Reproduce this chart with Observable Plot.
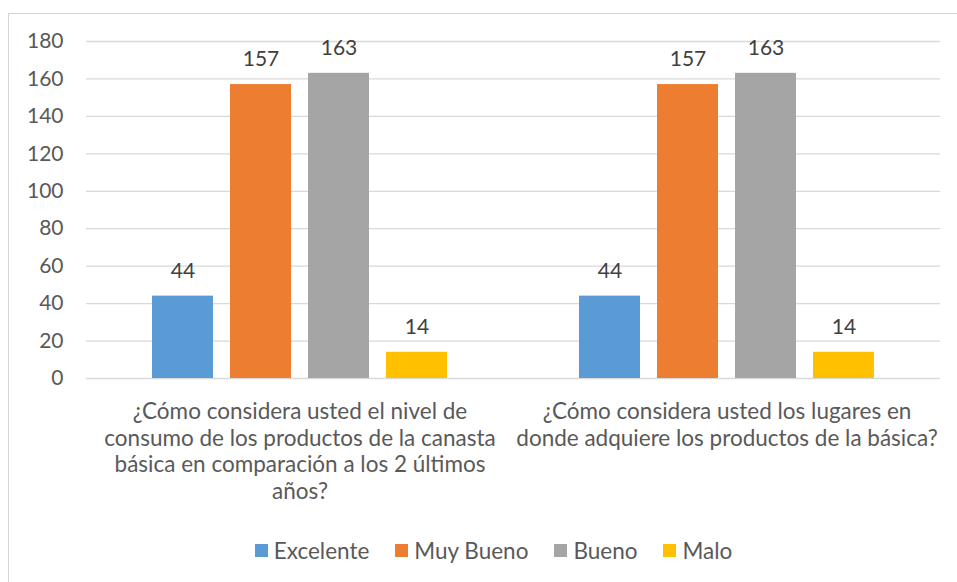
<!DOCTYPE html>
<html>
<head>
<meta charset="utf-8">
<script src="https://cdn.jsdelivr.net/npm/d3@7"></script>
<script src="https://cdn.jsdelivr.net/npm/@observablehq/plot@0.6"></script>
<style>
  html, body { margin: 0; padding: 0; background: #fff; }
  body { width: 957px; height: 582px; position: relative; overflow: hidden; font-family: Lato, "Open Sans", sans-serif; }
  #frame { position: absolute; left: 8px; top: 13px; width: 1000px; height: 600px; border: 1px solid #d4d4d4; box-sizing: border-box; }
  #chart { position: absolute; left: 0; top: 0; }
  #legend { position: absolute; left: 8px; width: 971px; top: 537px; display: flex; justify-content: center; align-items: center; font-size: 22.5px; color: #595959; }
  .item { display: flex; align-items: center; margin: 0 13px; }
  .sw { width: 13px; height: 13px; margin-right: 6px; }
</style>
</head>
<body>
<div id="frame"></div>
<div id="chart"></div>
<div id="legend"></div>
<script>
const questions = [
  "¿Cómo considera usted el nivel de\nconsumo de los productos de la canasta\nbásica en comparación a los 2 últimos\naños?",
  "¿Cómo considera usted los lugares en\ndonde adquiere los productos de la básica?"
];
const series = ["Excelente", "Muy Bueno", "Bueno", "Malo"];
const colors = ["#5b9bd5", "#ed7d31", "#a5a5a5", "#ffc000"];
const valuesQ1 = [44, 157, 163, 14];
const valuesQ2 = [44, 157, 163, 14];
const yTicks = [0, 20, 40, 60, 80, 100, 120, 140, 160, 180];

const data = [];
[valuesQ1, valuesQ2].forEach((vals, qi) => {
  series.forEach((s, si) => data.push({question: questions[qi], series: s, value: vals[si]}));
});

const plot = Plot.plot({
  width: 957,
  height: 520,
  marginLeft: 85,
  marginRight: 17,
  marginTop: 41,
  marginBottom: 142,
  style: {fontFamily: "Lato, 'Open Sans', sans-serif", fontSize: "21px", color: "#595959", background: "transparent"},
  fx: {domain: questions, padding: 0, label: null},
  x: {domain: series, paddingInner: 0.22, paddingOuter: 0.84, axis: null},
  y: {domain: [0, 180], label: null},
  color: {domain: series, range: colors},
  marks: [
    Plot.gridY(yTicks, {stroke: "#d9d9d9", strokeOpacity: 1, strokeWidth: 1.3, facetAnchor: null}),
    Plot.axisY(yTicks, {tickSize: 0, tickPadding: 23, fontSize: 21, fill: "#595959", label: null}),
    Plot.axisFx({anchor: "bottom", tickSize: 0, tickPadding: 22, fontSize: 22.5, fill: "#595959", lineHeight: 1.18, label: null}),
    Plot.barY(data, {fx: "question", x: "series", y: "value", fill: "series"}),
    Plot.text(data, {fx: "question", x: "series", y: "value", text: d => String(d.value), dy: -25, fontSize: 21, fill: "#404040"})
  ]
});
document.getElementById("chart").appendChild(plot);

const legend = document.getElementById("legend");
series.forEach((s, i) => {
  const it = document.createElement("div");
  it.className = "item";
  const sw = document.createElement("div");
  sw.className = "sw";
  sw.style.background = colors[i];
  it.appendChild(sw);
  const t = document.createElement("span");
  t.textContent = s;
  it.appendChild(t);
  legend.appendChild(it);
});
</script>
</body>
</html>
